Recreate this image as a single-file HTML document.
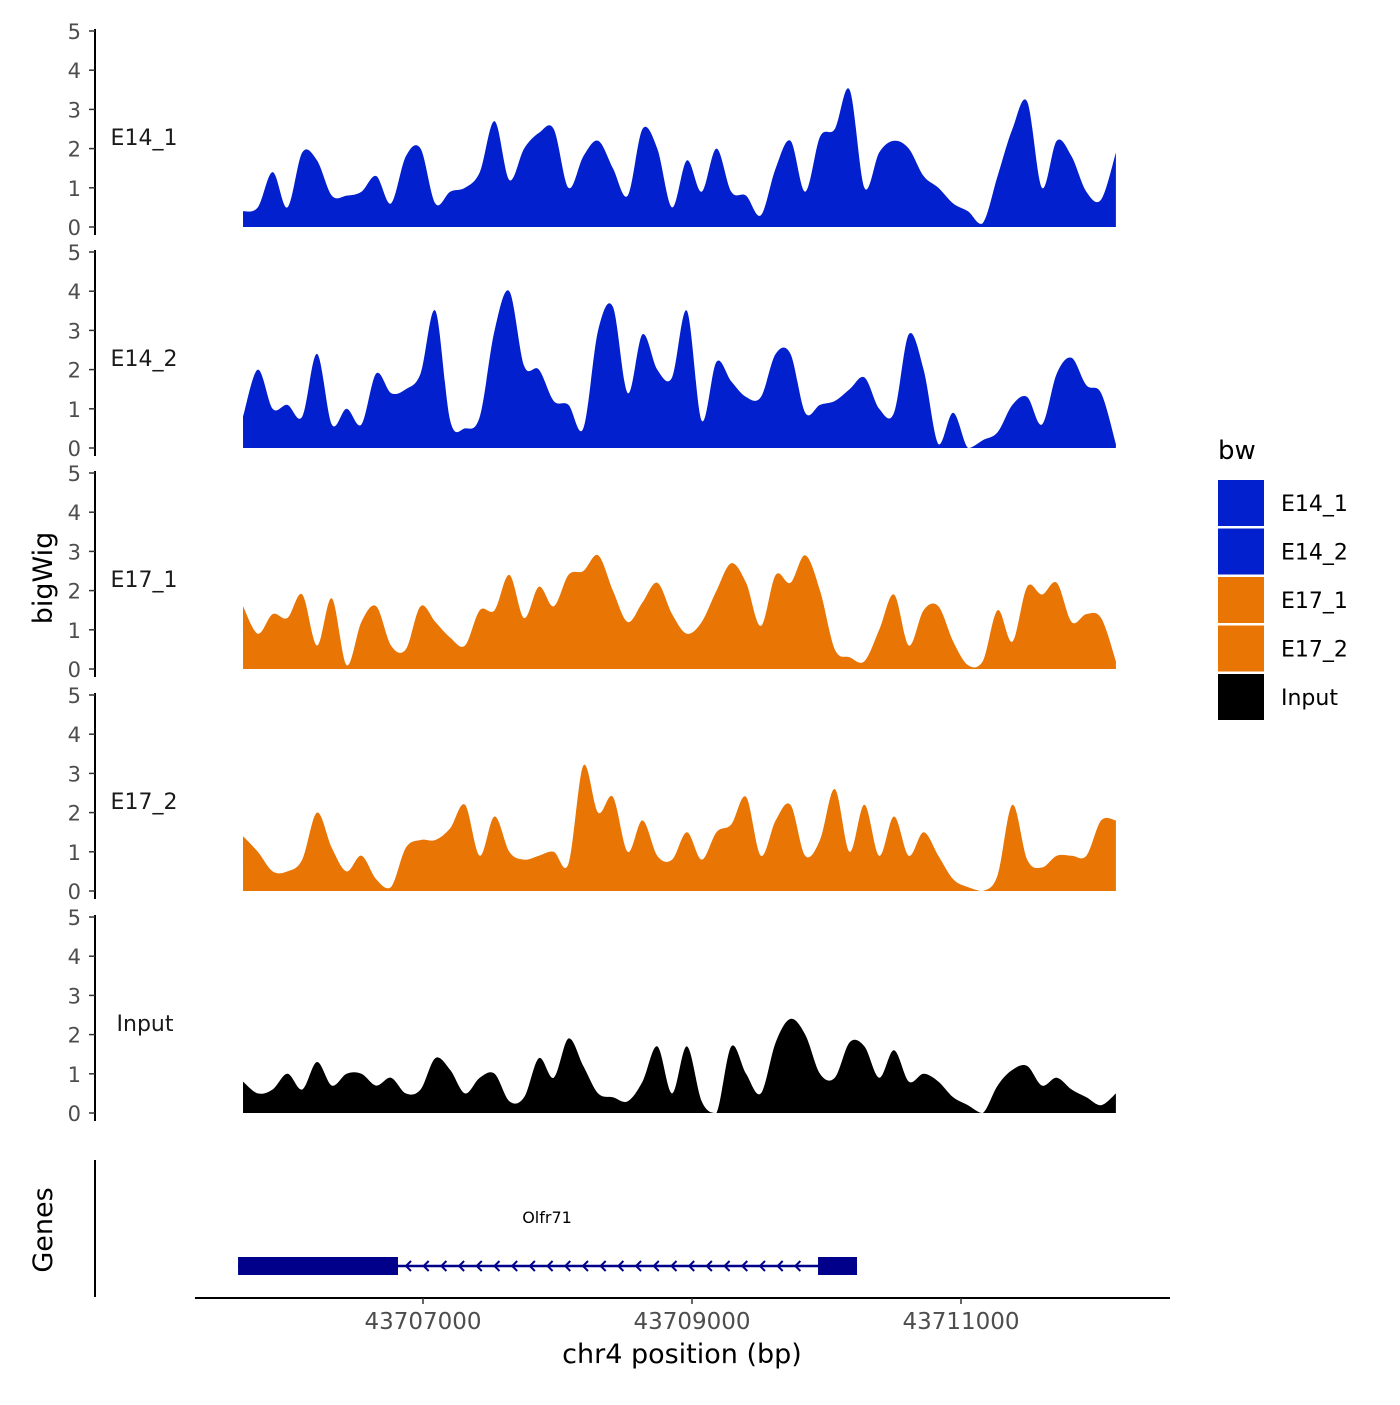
<!DOCTYPE html>
<html><head><meta charset="utf-8"><style>
body{margin:0;background:#fff;font-family:"Liberation Sans","DejaVu Sans",sans-serif}
svg text{font-family:"DejaVu Sans","Liberation Sans",sans-serif}
</style></head><body>
<svg id="chart" width="1400" height="1400" viewBox="0 0 1400 1400" xmlns="http://www.w3.org/2000/svg">
<rect width="1400" height="1400" fill="#fff"/>
<g id="tracks"></g>
<text x="52" y="578" font-size="27" text-anchor="middle" transform="rotate(-90 52 578)">bigWig</text>
<text x="52" y="1230" font-size="27" text-anchor="middle" transform="rotate(-90 52 1230)">Genes</text>
<line x1="95" y1="1160" x2="95" y2="1297" stroke="#000" stroke-width="2"/>
<g id="gene"></g>
<g id="xaxis"></g>
<text x="682" y="1363" font-size="27" text-anchor="middle">chr4 position (bp)</text>
<g id="legend"></g>
</svg>
<script>
const trackNames=["E14_1","E14_2","E17_1","E17_2","Input"];
const trackColors=["#0320CE","#0320CE","#E87504","#E87504","#000000"];
const binStart=43705662;
const binStep=110;
const xTicks=[43707000,43709000,43711000];
const yTicks=[0,1,2,3,4,5];
const e14_1=[0.4,0.5,1.4,0.5,1.9,1.7,0.8,0.8,0.9,1.3,0.6,1.8,2.0,0.6,0.9,1.0,1.4,2.7,1.2,2.0,2.4,2.5,1.0,1.8,2.2,1.5,0.8,2.5,2.0,0.5,1.7,0.9,2.0,0.9,0.8,0.3,1.5,2.2,0.9,2.3,2.5,3.5,1.0,1.9,2.2,2.0,1.3,1.0,0.6,0.4,0.1,1.3,2.5,3.2,1.0,2.2,1.8,0.9,0.7,1.9];
const e14_2=[0.8,2.0,1.0,1.1,0.8,2.4,0.6,1.0,0.6,1.9,1.4,1.5,1.9,3.5,0.7,0.5,0.8,3.0,4.0,2.1,2.0,1.2,1.1,0.5,3.0,3.6,1.4,2.9,2.0,1.8,3.5,0.7,2.2,1.7,1.3,1.3,2.4,2.4,0.9,1.1,1.2,1.5,1.8,1.0,0.9,2.9,2.0,0.1,0.9,0,0.2,0.4,1.1,1.3,0.6,1.9,2.3,1.6,1.4,0.1];
const e17_1=[1.6,0.9,1.4,1.3,1.9,0.6,1.8,0.1,1.2,1.6,0.6,0.5,1.6,1.2,0.8,0.6,1.5,1.5,2.4,1.3,2.1,1.6,2.4,2.5,2.9,2.0,1.2,1.7,2.2,1.4,0.9,1.2,2.0,2.7,2.2,1.1,2.4,2.2,2.9,2.0,0.5,0.3,0.2,1.0,1.9,0.6,1.5,1.6,0.7,0.1,0.2,1.5,0.7,2.1,1.9,2.2,1.2,1.4,1.3,0.2];
const e17_2=[1.4,1.0,0.5,0.5,0.8,2.0,1.1,0.5,0.9,0.3,0.1,1.1,1.3,1.3,1.6,2.2,0.9,1.9,1.0,0.8,0.9,1.0,0.7,3.2,2.0,2.4,1.0,1.8,0.9,0.8,1.5,0.8,1.5,1.7,2.4,0.9,1.8,2.2,0.9,1.3,2.6,1.0,2.2,0.9,1.9,0.9,1.5,0.9,0.3,0.1,0,0.4,2.2,0.8,0.6,0.9,0.9,0.9,1.8,1.8];
const input=[0.8,0.5,0.6,1.0,0.6,1.3,0.7,1.0,1.0,0.7,0.9,0.5,0.6,1.4,1.1,0.5,0.9,1.0,0.3,0.4,1.4,0.9,1.9,1.2,0.5,0.4,0.3,0.8,1.7,0.5,1.7,0.3,0.0,1.7,1.0,0.5,1.8,2.4,2.0,1.0,0.9,1.8,1.7,0.9,1.6,0.8,1.0,0.8,0.4,0.2,0.0,0.7,1.1,1.2,0.7,0.9,0.6,0.4,0.2,0.5];
const trackValues=[e14_1,e14_2,e17_1,e17_2,input];
const geneStart=43705625, geneEnd=43710227, exon1End=43706814, exon2Start=43709937;

const NS="http://www.w3.org/2000/svg";
function mk(t,a,p){const e=document.createElementNS(NS,t);for(const k in a)e.setAttribute(k,a[k]);p.appendChild(e);return e;}
const xScale=bp=>423+(bp-43707000)*0.1345;
const base0=[227,448,669,891,1113];
const yScale=(v,i)=>base0[i]-v*39.2;
const tracks=document.getElementById('tracks');
trackValues.forEach((vals,i)=>{
  const g=mk('g',{},tracks);
  
  
  const pts=vals.map((v,j)=>[xScale(binStart+j*binStep),yScale(v,i)]);
  let d='M'+pts[0][0]+','+base0[i]+' L'+pts[0][0].toFixed(1)+','+pts[0][1].toFixed(1);
  for(let j=0;j<pts.length-1;j++){
    const p0=pts[Math.max(0,j-1)],p1=pts[j],p2=pts[j+1],p3=pts[Math.min(pts.length-1,j+2)];
    let c1y=p1[1]+(p2[1]-p0[1])/6, c2y=p2[1]-(p3[1]-p1[1])/6;
    c1y=Math.min(c1y,base0[i]); c2y=Math.min(c2y,base0[i]);
    d+=` C${(p1[0]+(p2[0]-p0[0])/6).toFixed(1)},${c1y.toFixed(1)} ${(p2[0]-(p3[0]-p1[0])/6).toFixed(1)},${c2y.toFixed(1)} ${p2[0].toFixed(1)},${p2[1].toFixed(1)}`;
  }
  d+=' L'+pts[pts.length-1][0].toFixed(1)+','+base0[i]+'Z';
  const p=mk('path',{d:d,fill:trackColors[i]},g);
  
  
  const ax=mk('line',{x1:95,x2:95,y1:yScale(5,i)-2,y2:base0[i]+8,stroke:'#000','stroke-width':2},g);
  
  
  yTicks.forEach(t=>{
    const y=yScale(t,i);
    const tk=mk('line',{x1:89,x2:95,y1:y,y2:y,stroke:'#333','stroke-width':1.5},g);
    
    
    const tl=mk('text',{x:81,y:y+8,'font-size':21,'text-anchor':'end',fill:'#4d4d4d'},g);
    tl.textContent=t;
    
    
  });
  const lb=mk('text',{x:i==4?145:144,y:yScale(2.3,i)+8,'font-size':22,'text-anchor':'middle',fill:'#1a1a1a'},g);
  lb.textContent=trackNames[i];
  
  
});
// gene
const gg=document.getElementById('gene');
const gy=1266;
const gl=mk('line',{x1:xScale(geneStart),x2:xScale(geneEnd),y1:gy,y2:gy,stroke:'#00008B','stroke-width':2.5},gg);


for(let x=xScale(exon1End)+8;x<xScale(exon2Start)-5;x+=17.7){
  const a=mk('path',{d:`M${x+5},${gy-5} L${x},${gy} L${x+5},${gy+5}`,stroke:'#00008B','stroke-width':2,fill:'none'},gg);
  
  
}
const ex1=mk('rect',{x:xScale(geneStart),y:gy-9,width:xScale(exon1End)-xScale(geneStart),height:18,fill:'#00008B'},gg);


const ex2=mk('rect',{x:xScale(exon2Start),y:gy-9,width:xScale(geneEnd)-xScale(exon2Start),height:18,fill:'#00008B'},gg);


const gt=mk('text',{x:547,y:1223,'font-size':16,'text-anchor':'middle'},gg);
gt.textContent='Olfr71';


// x axis
const xa=document.getElementById('xaxis');
const xl=mk('line',{x1:195,x2:1170,y1:1298,y2:1298,stroke:'#000','stroke-width':2},xa);


xTicks.forEach(t=>{
  const x=xScale(t);
  const tk=mk('line',{x1:x,x2:x,y1:1298,y2:1304,stroke:'#333','stroke-width':1.5},xa);
  
  
  const tl=mk('text',{x:x,y:1329,'font-size':23,'text-anchor':'middle',fill:'#4d4d4d'},xa);
  tl.textContent=t;
  
  
});
// legend
const lg=document.getElementById('legend');
const lt=mk('text',{x:1218,y:459,'font-size':26},lg);
lt.textContent='bw';


trackNames.forEach((n,i)=>{
  const y=480+i*48.5;
  const r=mk('rect',{x:1218,y:y,width:46,height:46,fill:trackColors[i]},lg);
  
  
  const t=mk('text',{x:1281,y:y+31,'font-size':22},lg);
  t.textContent=n;
  
  
});
</script>
</body></html>
